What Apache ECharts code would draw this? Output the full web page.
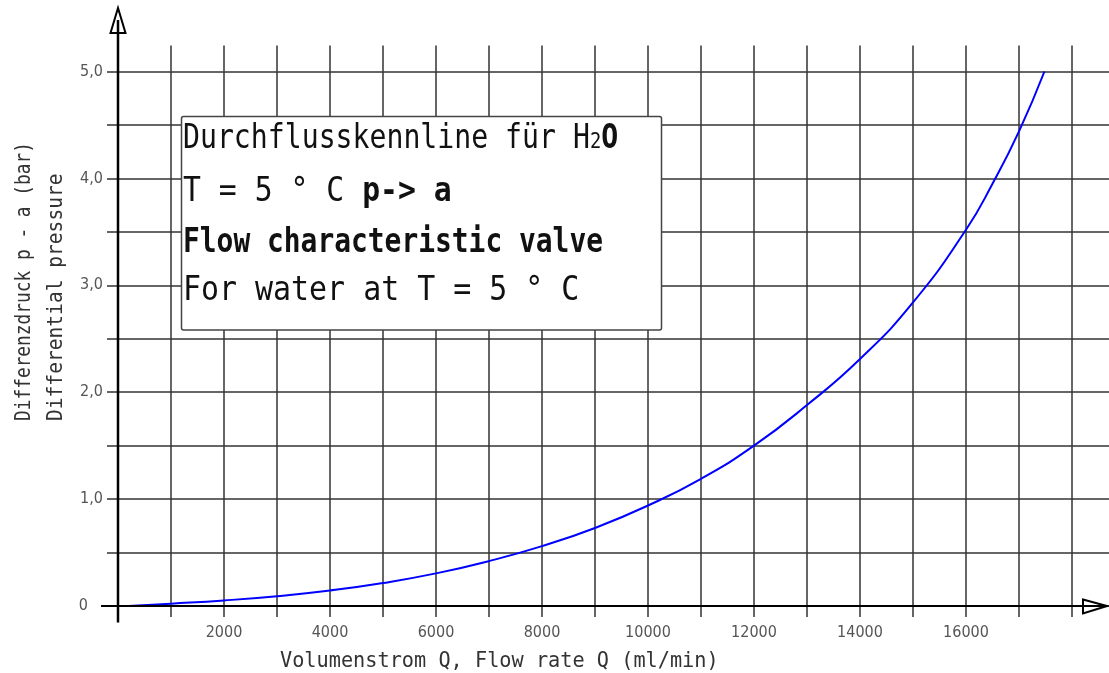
<!DOCTYPE html>
<html><head><meta charset="utf-8">
<script src="https://cdn.jsdelivr.net/npm/echarts@6/dist/echarts.min.js"></script>
<style>html,body{margin:0;padding:0;background:#fff}#c{width:1109px;height:673px}</style>
</head><body><div id="c"></div>
<script>
// ---- data ----
const flowRate = [200, 1000, 2000, 3000, 4000, 5000, 6000, 7000, 8000, 9000, 10000, 11000, 12000, 13000, 14000, 15000, 16000, 16500, 17000, 17480];
const pressure = [0.0, 0.022, 0.052, 0.092, 0.145, 0.215, 0.305, 0.42, 0.56, 0.73, 0.94, 1.19, 1.50, 1.88, 2.31, 2.84, 3.52, 3.95, 4.44, 5.0];
const xTickLabels = [2000, 4000, 6000, 8000, 10000, 12000, 14000, 16000];
const yTickLabels = [0, 1, 2, 3, 4, 5];
const xAxisTitle = 'Volumenstrom Q, Flow rate Q (ml/min)';
const yAxisTitle = ['Differenzdruck p - a (bar)', 'Differential pressure'];
const boxLines = [
  [['n', 'Durchflusskennline für H'], ['s', '2'], ['b', 'O']],
  [['n', 'T = 5 ° C '], ['b', 'p-> a']],
  [['b', 'Flow characteristic valve']],
  [['n', 'For water at T = 5 ° C']]
];

const MONO = '"DejaVu Sans Mono", monospace';
const COND = '"DejaVu Sans Condensed", "DejaVu Sans", sans-serif';
const GRID = '#333';

const chart = echarts.init(document.getElementById('c'), null, {renderer: 'canvas'});

const gridLine = {show: true, lineStyle: {color: GRID, width: 1.5}};
const noLine = {show: false, onZero: false};
const option = {
  animation: false,
  backgroundColor: '#fff',
  grid: {left: 118, right: 37, top: 71.5, bottom: 67, containLabel: false},
  xAxis: [{
    type: 'value', min: 0, max: 18000, interval: 1000, position: 'bottom',
    axisLine: noLine,
    axisTick: {show: true, length: 11, inside: false, lineStyle: {color: GRID, width: 1.5}},
    splitLine: gridLine,
    axisLabel: {
      margin: 19, color: '#555', fontFamily: COND, fontSize: 16,
      formatter: v => xTickLabels.includes(v) ? String(v) : ''
    }
  }, {
    type: 'value', min: 0, max: 18000, interval: 1000, position: 'top',
    axisLine: noLine,
    axisTick: {show: true, length: 26, inside: false, lineStyle: {color: GRID, width: 1.5}},
    splitLine: {show: false}, axisLabel: {show: false}
  }],
  yAxis: [{
    type: 'value', min: 0, max: 5, interval: 0.5, position: 'left',
    axisLine: noLine,
    axisTick: {show: true, length: 11, inside: false, lineStyle: {color: GRID, width: 1.5}},
    splitLine: gridLine,
    axisLabel: {
      margin: 15, color: '#555', fontFamily: COND, fontSize: 16,
      formatter: v => yTickLabels.includes(v) ? (v === 0 ? '{z|0}' : v.toFixed(1).replace('.', ',')) : '',
      rich: {z: {padding: [0, 15, 0, 0], color: '#555', fontFamily: COND, fontSize: 16}}
    }
  }, {
    type: 'value', min: 0, max: 5, interval: 0.5, position: 'right',
    axisLine: noLine,
    axisTick: {show: true, length: 37, inside: false, lineStyle: {color: GRID, width: 1.5}},
    splitLine: {show: false}, axisLabel: {show: false}
  }],
  series: [{
    type: 'line', xAxisIndex: 0, yAxisIndex: 0,
    data: flowRate.map((q, i) => [q, pressure[i]]),
    smooth: 0.5, showSymbol: false, symbol: 'none',
    lineStyle: {color: '#0000ff', width: 2}, z: 5
  }]
};
chart.setOption(option);

const o = chart.convertToPixel({xAxisIndex: 0, yAxisIndex: 0}, [0, 0]);
const ox = o[0], oy = o[1];

function richLine(parts, size) {
  return {
    text: parts.map(p => '{' + p[0] + '|' + p[1].replace(/[{}|]/g, '') + '}').join(''),
    rich: {
      n: {fontFamily: MONO, fontSize: size, fontWeight: 'normal', fill: '#111', color: '#111'},
      b: {fontFamily: MONO, fontSize: size, fontWeight: 'bold', fill: '#111', color: '#111'},
      s: {fontFamily: MONO, fontSize: Math.round(size * 0.66), fontWeight: 'normal', fill: '#111', color: '#111', verticalAlign: 'bottom', padding: [0, 0, 2, 0]}
    }
  };
}
const boxY = [139, 192, 243.5, 291];
const boxScale = [0.88, 0.93, 0.872, 0.935];
const boxText = boxLines.map((parts, i) => {
  const rl = richLine(parts, 33);
  return {
    type: 'text', x: 183, y: boxY[i], scaleX: boxScale[i] * 32 / 33, scaleY: 1, z: 102,
    style: {text: rl.text, rich: rl.rich, font: '33px ' + MONO, fill: '#111', align: 'left', verticalAlign: 'middle'}
  };
});

chart.setOption({
  graphic: [
    // axes lines
    {type: 'line', z: 110, shape: {x1: ox, y1: oy + 16.5, x2: ox, y2: 20}, style: {stroke: '#000', lineWidth: 2.5}},
    {type: 'polygon', z: 111, shape: {points: [[ox, 8], [ox - 7.5, 33], [ox + 7.5, 33]]}, style: {fill: 'rgba(0,0,0,0)', stroke: '#000', lineWidth: 2}},
    {type: 'line', z: 110, shape: {x1: ox - 17, y1: oy, x2: 1106, y2: oy}, style: {stroke: '#000', lineWidth: 2.2}},
    {type: 'polygon', z: 111, shape: {points: [[1083, oy - 6.5], [1107, oy], [1083, oy + 7.5]]}, style: {fill: 'rgba(0,0,0,0)', stroke: '#000', lineWidth: 2}},
    // annotation box
    {type: 'rect', z: 101, shape: {x: 181.5, y: 116.5, width: 480, height: 213.5, r: 2}, style: {fill: '#fff', stroke: '#444', lineWidth: 1.5}},
    ...boxText,
    // axis titles
    {type: 'text', x: 280, y: 661, scaleX: 0.92, z: 102,
      style: {text: xAxisTitle, font: '22px ' + MONO, fill: '#333', align: 'left', verticalAlign: 'middle'}},
    {type: 'text', x: 24, y: 421, rotation: Math.PI / 2, scaleX: 0.81, z: 102,
      style: {text: yAxisTitle[0], font: '22px ' + MONO, fill: '#333', align: 'left', verticalAlign: 'middle'}},
    {type: 'text', x: 56, y: 421, rotation: Math.PI / 2, scaleX: 0.89, z: 102,
      style: {text: yAxisTitle[1], font: '22px ' + MONO, fill: '#333', align: 'left', verticalAlign: 'middle'}}
  ]
});
</script>
</body></html>
